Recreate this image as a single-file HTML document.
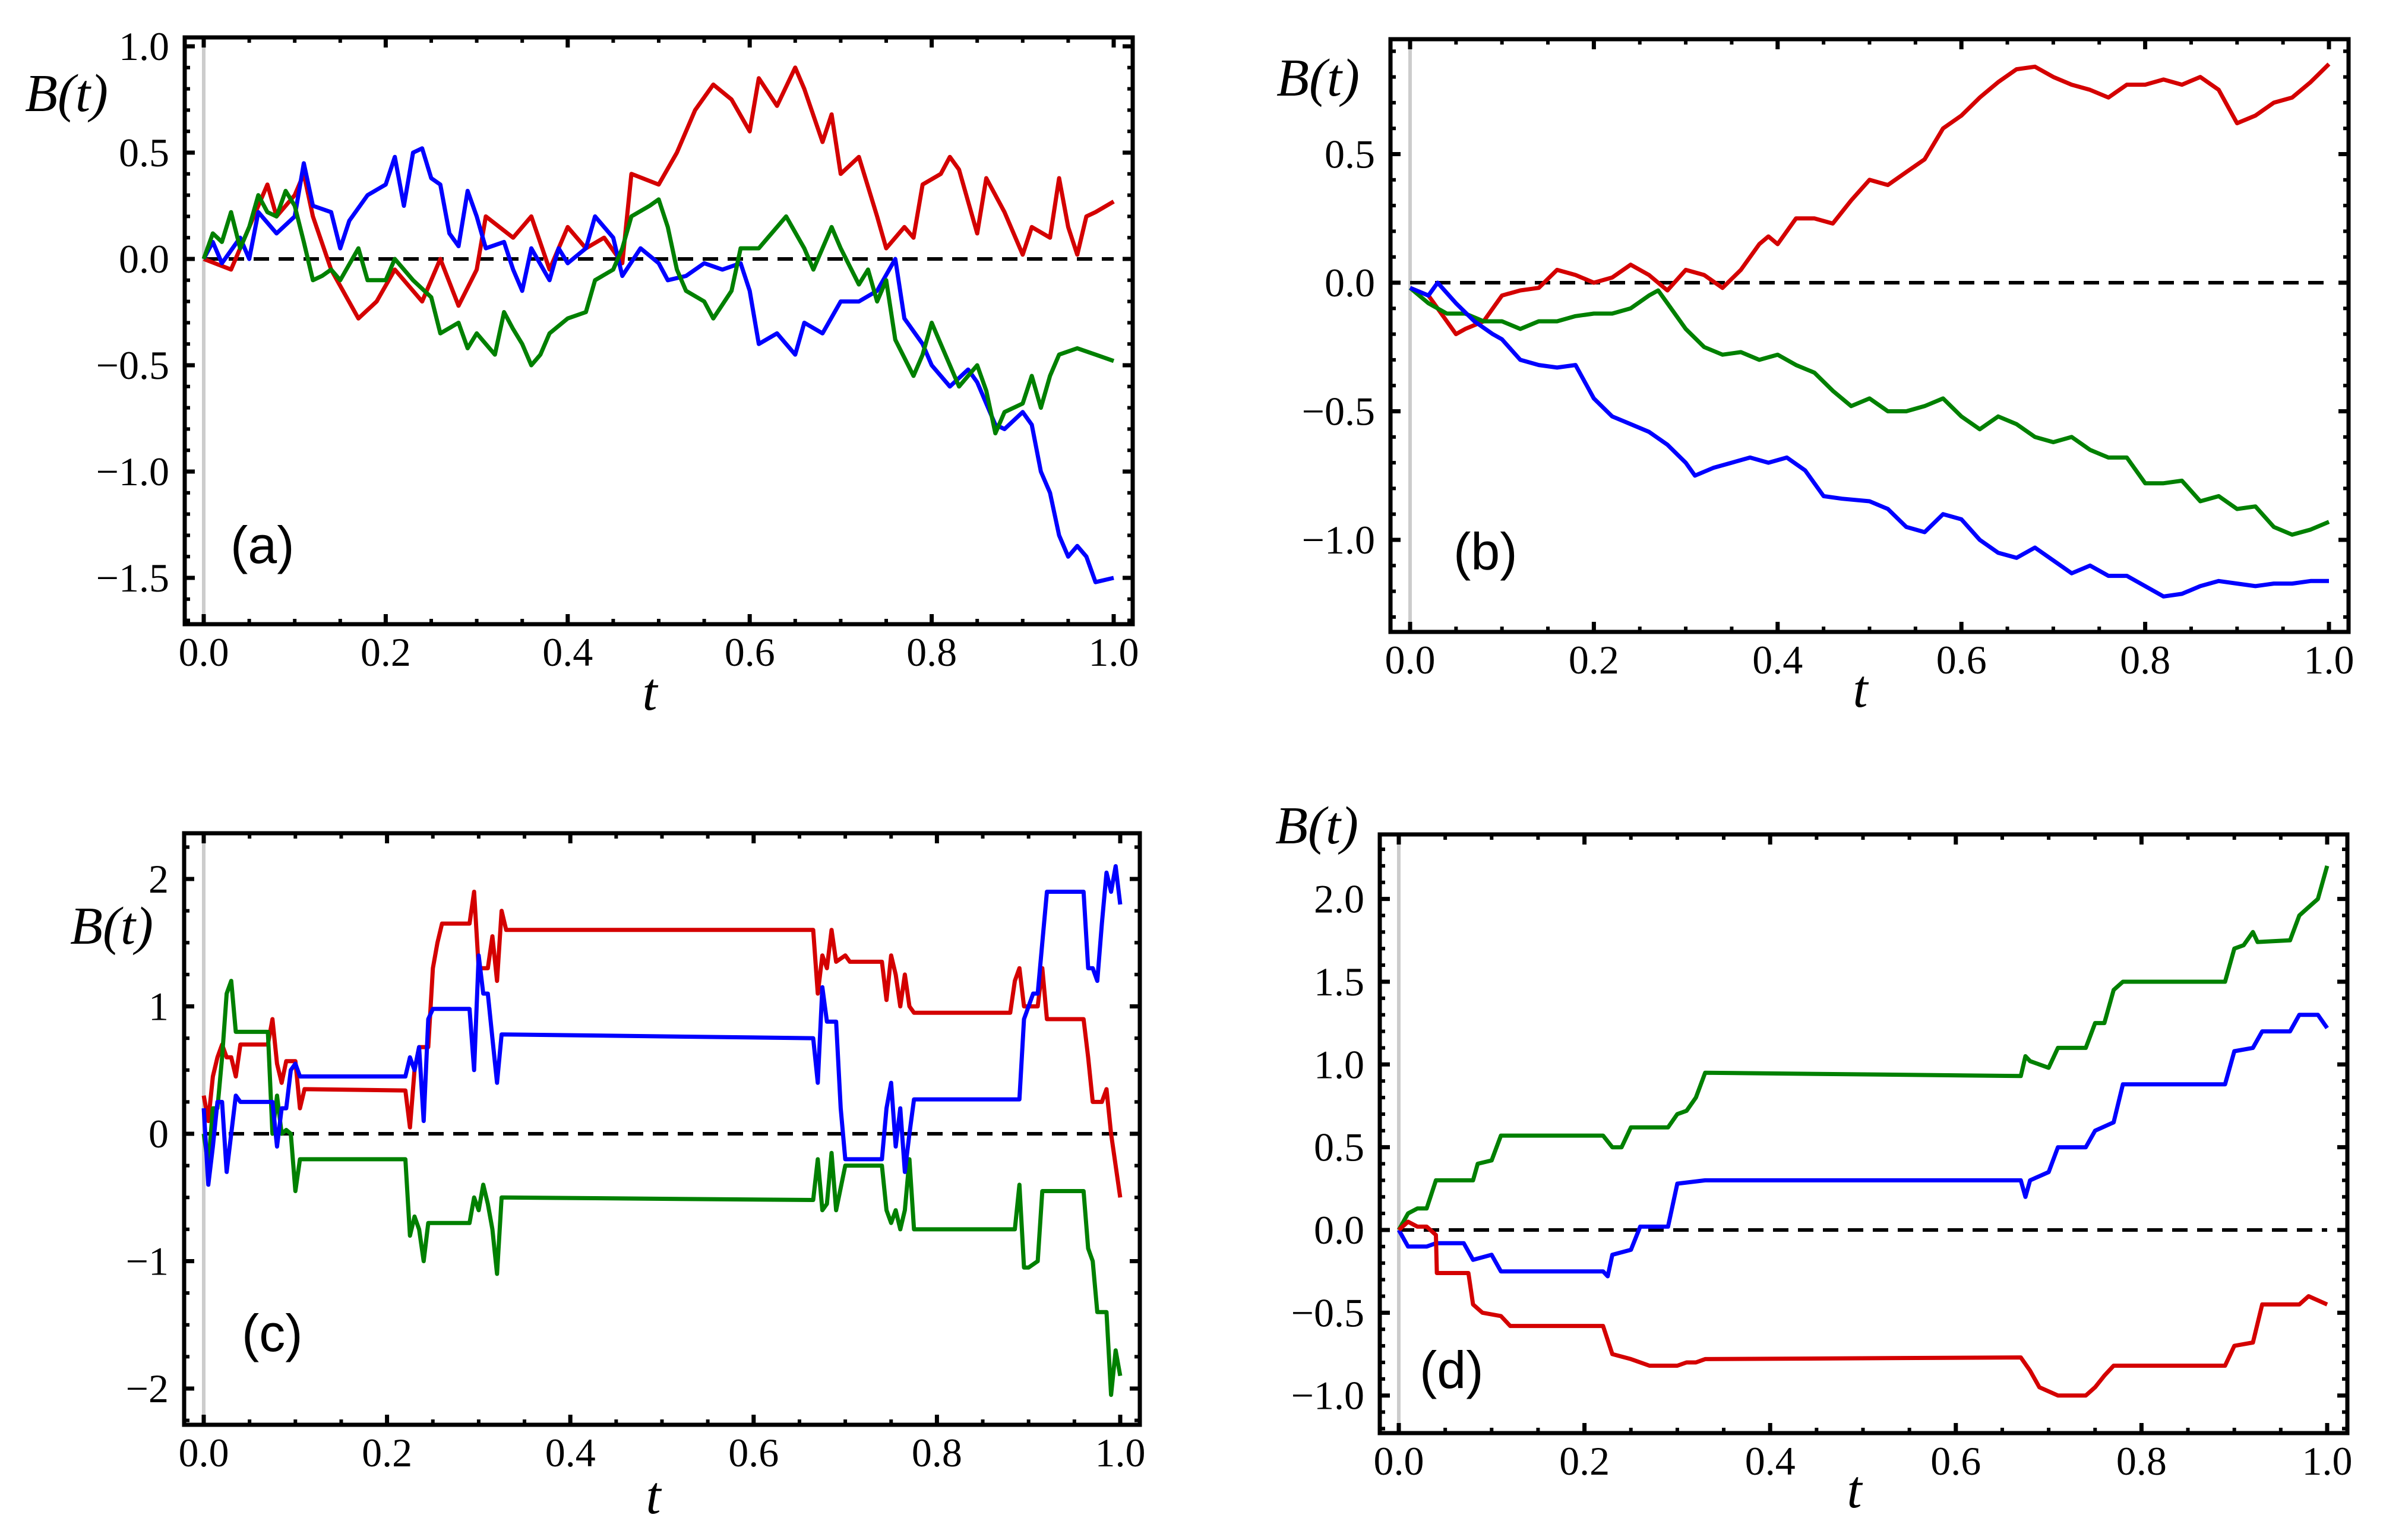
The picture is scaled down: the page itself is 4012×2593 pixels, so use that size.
<!DOCTYPE html>
<html><head><meta charset="utf-8"><style>
html,body{margin:0;padding:0;background:#fff;}
svg{display:block;}
.tk{font-family:"Liberation Serif",serif;font-size:68px;fill:#000;}
.lab{font-family:"Liberation Serif",serif;font-style:italic;font-size:90px;fill:#000;}
.pl{font-family:"Liberation Sans",sans-serif;font-size:88px;fill:#000;}
</style></head><body>
<svg id="fig" width="4012" height="2593" viewBox="0 0 4012 2593" xmlns="http://www.w3.org/2000/svg"></svg>
<script>
// ---- Panel (a) data ----
const aRedT=[0,.03,.06,.07,.08,.1,.11,.12,.14,.17,.19,.21,.24,.26,.28,.3,.31,.34,.36,.38,.40,.42,.44,.46,.47,.5,.52,.54,.56,.58,.6,.61,.63,.65,.66,.68,.69,.7,.72,.74,.75,.77,.78,.79,.81,.82,.83,.85,.86,.88,.9,.91,.93,.94,.95,.96,.97,.98,1.0];
const aRedB=[0,-0.05,0.25,0.35,0.2,0.3,0.4,0.2,-0.05,-0.28,-0.2,-0.05,-0.2,0.0,-0.22,-0.05,0.2,0.1,0.2,-0.05,0.15,0.05,0.1,-0.02,0.4,0.35,0.5,0.7,0.82,0.75,0.6,0.85,0.72,0.9,0.8,0.55,0.68,0.4,0.48,0.2,0.05,0.15,0.1,0.35,0.4,0.48,0.42,0.12,0.38,0.22,0.02,0.15,0.1,0.38,0.15,0.02,0.2,0.22,0.27];
const aBlueT=[0,.01,.02,.04,.05,.06,.08,.1,.11,.12,.14,.15,.16,.18,.2,.21,.22,.23,.24,.25,.26,.27,.28,.29,.3,.31,.33,.34,.35,.36,.38,.39,.4,.42,.43,.45,.46,.48,.5,.51,.53,.55,.57,.59,.6,.61,.63,.65,.66,.68,.7,.72,.74,.76,.77,.79,.8,.82,.84,.85,.87,.88,.9,.91,.92,.93,.94,.95,.96,.97,.98,1.0];
const aBlueB=[0,0.08,-0.02,0.1,0.0,0.22,0.12,0.2,0.45,0.25,0.22,0.05,0.18,0.3,0.35,0.48,0.25,0.5,0.52,0.38,0.35,0.12,0.06,0.32,0.2,0.05,0.08,-0.05,-0.15,0.05,-0.1,0.05,-0.02,0.05,0.2,0.1,-0.08,0.05,-0.02,-0.1,-0.08,-0.02,-0.05,-0.02,-0.15,-0.4,-0.35,-0.45,-0.3,-0.35,-0.2,-0.2,-0.15,0.0,-0.28,-0.4,-0.5,-0.6,-0.52,-0.58,-0.78,-0.8,-0.72,-0.78,-1.0,-1.1,-1.3,-1.4,-1.35,-1.4,-1.52,-1.5];
const aGreenT=[0,.01,.02,.03,.04,.05,.06,.07,.08,.09,.1,.11,.12,.13,.14,.15,.17,.18,.2,.21,.23,.25,.26,.28,.29,.3,.32,.33,.34,.35,.36,.37,.38,.4,.42,.43,.45,.46,.47,.49,.5,.51,.52,.53,.55,.56,.58,.59,.61,.62,.64,.66,.67,.69,.7,.72,.73,.74,.75,.76,.78,.79,.8,.81,.83,.84,.85,.86,.87,.88,.9,.91,.92,.93,.94,.96,.98,1.0];
const aGreenB=[0,0.12,0.08,0.22,0.05,0.15,0.3,0.22,0.2,0.32,0.25,0.08,-0.1,-0.08,-0.05,-0.1,0.05,-0.1,-0.1,0.0,-0.1,-0.18,-0.35,-0.3,-0.42,-0.35,-0.45,-0.25,-0.33,-0.4,-0.5,-0.45,-0.35,-0.28,-0.25,-0.1,-0.05,0.05,0.2,0.25,0.28,0.15,-0.05,-0.15,-0.2,-0.28,-0.15,0.05,0.05,0.1,0.2,0.05,-0.05,0.15,0.05,-0.12,-0.05,-0.2,-0.1,-0.38,-0.55,-0.45,-0.3,-0.4,-0.6,-0.55,-0.5,-0.62,-0.82,-0.72,-0.68,-0.55,-0.7,-0.55,-0.45,-0.42,-0.45,-0.48];
// ---- Panel (b) data ----
const bRedT=[0,.02,.04,.05,.06,.08,.1,.12,.14,.16,.18,.2,.22,.24,.26,.28,.3,.32,.34,.36,.38,.39,.4,.42,.44,.46,.48,.5,.52,.54,.56,.58,.6,.62,.64,.66,.68,.7,.72,.74,.76,.78,.8,.82,.84,.86,.88,.9,.92,.94,.96,.98,1.0];
const bRedB=[-0.02,-0.05,-0.15,-0.2,-0.18,-0.15,-0.05,-0.03,-0.02,0.05,0.03,0.0,0.02,0.07,0.03,-0.03,0.05,0.03,-0.02,0.05,0.15,0.18,0.15,0.25,0.25,0.23,0.32,0.4,0.38,0.43,0.48,0.6,0.65,0.72,0.78,0.83,0.84,0.8,0.77,0.75,0.72,0.77,0.77,0.79,0.77,0.8,0.75,0.62,0.65,0.7,0.72,0.78,0.85];
const bGreenT=[0,.02,.04,.06,.08,.1,.12,.14,.16,.18,.2,.22,.24,.26,.27,.28,.3,.32,.34,.36,.38,.4,.42,.44,.46,.48,.5,.52,.54,.56,.58,.6,.62,.64,.66,.68,.7,.72,.74,.76,.78,.8,.82,.84,.86,.88,.9,.92,.94,.96,.98,1.0];
const bGreenB=[-0.02,-0.08,-0.12,-0.12,-0.15,-0.15,-0.18,-0.15,-0.15,-0.13,-0.12,-0.12,-0.1,-0.05,-0.03,-0.08,-0.18,-0.25,-0.28,-0.27,-0.3,-0.28,-0.32,-0.35,-0.42,-0.48,-0.45,-0.5,-0.5,-0.48,-0.45,-0.52,-0.57,-0.52,-0.55,-0.6,-0.62,-0.6,-0.65,-0.68,-0.68,-0.78,-0.78,-0.77,-0.85,-0.83,-0.88,-0.87,-0.95,-0.98,-0.96,-0.93];
const bBlueT=[0,.02,.03,.05,.07,.09,.1,.12,.14,.16,.18,.2,.22,.24,.26,.28,.3,.31,.33,.35,.37,.39,.41,.43,.45,.47,.5,.52,.54,.56,.58,.6,.62,.64,.66,.68,.7,.72,.74,.76,.78,.8,.82,.84,.86,.88,.9,.92,.94,.96,.98,1.0];
const bBlueB=[-0.02,-0.05,0.0,-0.08,-0.15,-0.2,-0.22,-0.3,-0.32,-0.33,-0.32,-0.45,-0.52,-0.55,-0.58,-0.63,-0.7,-0.75,-0.72,-0.7,-0.68,-0.7,-0.68,-0.73,-0.83,-0.84,-0.85,-0.88,-0.95,-0.97,-0.9,-0.92,-1.0,-1.05,-1.07,-1.03,-1.08,-1.13,-1.1,-1.14,-1.14,-1.18,-1.22,-1.21,-1.18,-1.16,-1.17,-1.18,-1.17,-1.17,-1.16,-1.16];
// ---- Panel (c) data ----
const cRedT=[0,.005,.01,.015,.02,.025,.03,.035,.04,.07,.075,.08,.085,.09,.1,.105,.11,.22,.225,.23,.235,.245,.25,.255,.26,.29,.295,.3,.31,.315,.32,.325,.33,.665,.67,.675,.68,.685,.69,.7,.705,.74,.745,.75,.755,.76,.765,.77,.775,.88,.885,.89,.895,.91,.915,.92,.96,.965,.97,.98,.985,.99,1.0];
const cRedB=[0.3,0.1,0.45,0.6,0.7,0.6,0.6,0.45,0.7,0.7,0.9,0.55,0.4,0.57,0.57,0.2,0.35,0.34,0.05,0.5,0.68,0.68,1.3,1.5,1.65,1.65,1.9,1.3,1.3,1.55,1.2,1.75,1.6,1.6,1.1,1.4,1.3,1.6,1.35,1.4,1.35,1.35,1.05,1.4,1.25,1.0,1.25,1.0,0.95,0.95,1.2,1.3,1.0,1.0,1.3,0.9,0.9,0.6,0.25,0.25,0.35,0.0,-0.5];
const cBlueT=[0,.005,.01,.015,.02,.025,.03,.035,.04,.075,.08,.085,.09,.095,.1,.105,.22,.225,.23,.235,.24,.245,.25,.29,.295,.3,.305,.31,.315,.32,.325,.665,.67,.675,.68,.69,.695,.7,.74,.745,.75,.755,.76,.765,.77,.775,.89,.895,.9,.905,.91,.915,.92,.96,.965,.97,.975,.98,.985,.99,.995,1.0];
const cBlueB=[0.2,-0.4,-0.1,0.25,0.25,-0.3,0.0,0.3,0.25,0.25,-0.1,0.2,0.2,0.5,0.55,0.45,0.45,0.6,0.5,0.68,0.1,0.9,0.98,0.98,0.5,1.4,1.1,1.1,0.75,0.4,0.78,0.75,0.4,1.15,0.88,0.88,0.2,-0.2,-0.2,0.2,0.4,-0.1,0.2,-0.3,0.0,0.27,0.27,0.9,1.0,1.1,1.1,1.5,1.9,1.9,1.3,1.3,1.2,1.65,2.05,1.9,2.1,1.8];
const cGreenT=[0,.005,.01,.015,.02,.025,.03,.035,.07,.075,.08,.085,.09,.095,.1,.105,.22,.225,.23,.235,.24,.245,.25,.29,.295,.3,.305,.31,.315,.32,.325,.665,.67,.675,.68,.685,.69,.7,.74,.745,.75,.755,.76,.765,.77,.775,.885,.89,.895,.9,.91,.915,.92,.96,.965,.97,.975,.985,.99,.995,1.0];
const cGreenB=[0.0,-0.25,0.2,0.2,0.6,1.1,1.2,0.8,0.8,0.0,0.3,0.0,0.03,0.0,-0.45,-0.2,-0.2,-0.8,-0.65,-0.75,-1.0,-0.7,-0.7,-0.7,-0.5,-0.6,-0.4,-0.55,-0.75,-1.1,-0.5,-0.52,-0.2,-0.6,-0.55,-0.15,-0.6,-0.25,-0.25,-0.6,-0.7,-0.6,-0.75,-0.6,-0.2,-0.75,-0.75,-0.4,-1.05,-1.05,-1.0,-0.45,-0.45,-0.45,-0.9,-1.0,-1.4,-1.4,-2.05,-1.7,-1.9];
// ---- Panel (d) data ----
const dGreenT=[0,.01,.02,.03,.04,.08,.085,.1,.11,.22,.23,.24,.25,.29,.3,.31,.32,.33,.67,.675,.68,.69,.7,.71,.74,.75,.76,.77,.78,.89,.9,.91,.92,.925,.96,.97,.98,.99,1.0];
const dGreenB=[0,0.1,0.13,0.13,0.3,0.3,0.4,0.42,0.57,0.57,0.5,0.5,0.62,0.62,0.7,0.72,0.8,0.95,0.93,1.05,1.02,1.0,0.98,1.1,1.1,1.25,1.25,1.45,1.5,1.5,1.7,1.72,1.8,1.74,1.75,1.9,1.95,2.0,2.2];
const dBlueT=[0,.01,.03,.04,.07,.08,.1,.11,.22,.225,.23,.25,.26,.29,.3,.33,.67,.675,.68,.7,.71,.74,.75,.77,.78,.89,.9,.92,.93,.96,.97,.99,1.0];
const dBlueB=[0,-0.1,-0.1,-0.08,-0.08,-0.18,-0.15,-0.25,-0.25,-0.28,-0.15,-0.12,0.02,0.02,0.28,0.3,0.3,0.2,0.3,0.35,0.5,0.5,0.6,0.65,0.88,0.88,1.08,1.1,1.2,1.2,1.3,1.3,1.22];
const dRedT=[0,.01,.02,.03,.04,.041,.075,.08,.09,.11,.12,.22,.23,.25,.27,.3,.31,.32,.33,.67,.68,.69,.71,.74,.75,.76,.77,.89,.9,.92,.93,.97,.98,1.0];
const dRedB=[0,0.05,0.02,0.02,-0.03,-0.26,-0.26,-0.45,-0.5,-0.52,-0.58,-0.58,-0.75,-0.78,-0.82,-0.82,-0.8,-0.8,-0.78,-0.77,-0.85,-0.95,-1.0,-1.0,-0.95,-0.88,-0.82,-0.82,-0.7,-0.68,-0.45,-0.45,-0.4,-0.45];
// ---- tick label arrays ----
const aYTicks=[-1.5,-1.0,-0.5,0.0,0.5,1.0];
const bYTicks=[-1.0,-0.5,0.0,0.5];
const cYTicks=[-2,-1,0,1,2];
const dYTicks=[-1.0,-0.5,0.0,0.5,1.0,1.5,2.0];
const xTicks=[0,0.2,0.4,0.6,0.8,1.0];

const NS='http://www.w3.org/2000/svg';
const svg=document.getElementById('fig');
function mk(tag,attrs,parent){const e=document.createElementNS(NS,tag);for(const k in attrs)e.setAttribute(k,attrs[k]);(parent||svg).appendChild(e);return e;}
const RED='#d40000',GREEN='#008000',BLUE='#0000ff';

function panel(p){
  const g=mk('g',{});
  
  
  const xs=t=>p.x0+(p.x1-p.x0)*t;
  const ys=v=>p.y0-p.unit*v;
  const gl=mk('line',{x1:xs(0),x2:xs(0),y1:p.T,y2:p.B,stroke:'#cccccc','stroke-width':6},g);
  
  
  const dl=mk('line',{x1:xs(0),x2:xs(1),y1:ys(0),y2:ys(0),stroke:'#000','stroke-width':6,'stroke-dasharray':'26,16'},g);
  
  
  p.series.forEach(s=>{
    let d='';
    for(let i=0;i<s.t.length;i++){d+=(i?'L':'M')+xs(s.t[i]).toFixed(1)+','+ys(s.b[i]).toFixed(1);}
    const pa=mk('path',{d:d,fill:'none',stroke:s.c,'stroke-width':7,'stroke-linejoin':'round'},g);
    
    
  });
  const tg=mk('g',{stroke:'#000'},g);
  
  
  for(let k=-2;k<=102;k++){
    const t=k/100; if(k%5!==0)continue;
    const X=xs(t); if(X<p.L+4||X>p.R-4)continue;
    const len=(k%20===0)?17:9, w=(k%20===0)?7:6;
    mk('line',{x1:X,x2:X,y1:p.B,y2:p.B-len,'stroke-width':w},tg);
    mk('line',{x1:X,x2:X,y1:p.T,y2:p.T+len,'stroke-width':w},tg);
  }
  const vmin=(p.y0-p.B)/p.unit, vmax=(p.y0-p.T)/p.unit;
  for(let k=Math.ceil(vmin/p.minor);k<=Math.floor(vmax/p.minor);k++){
    const v=k*p.minor; const Y=ys(v); if(Y<p.T+4||Y>p.B-4)continue;
    const maj=Math.abs(v/p.major-Math.round(v/p.major))<1e-6;
    const len=maj?17:9,w=maj?7:6;
    mk('line',{x1:p.L,x2:p.L+len,y1:Y,y2:Y,'stroke-width':w},tg);
    mk('line',{x1:p.R,x2:p.R-len,y1:Y,y2:Y,'stroke-width':w},tg);
  }
  const fr=mk('rect',{x:p.L,y:p.T,width:p.R-p.L,height:p.B-p.T,fill:'none',stroke:'#000','stroke-width':7},g);
  
  
  xTicks.forEach(t=>{
    const tx=mk('text',{x:xs(t),y:p.B+70,'text-anchor':'middle',class:'tk'},g);
    tx.textContent=t.toFixed(1);
    
    
  });
  p.yticks.forEach(v=>{
    const tx=mk('text',{x:p.L-26,y:ys(v)+23,'text-anchor':'end',class:'tk'},g);
    tx.textContent=(v<0?'\u2212':'')+Math.abs(v).toFixed(p.dec);
    
    
  });
  const yl=mk('text',{x:p.byx,y:p.byy,class:'lab'},g);
  yl.textContent='B(t)';
  
  
  const xl=mk('text',{x:p.tx,y:p.ty,class:'lab','text-anchor':'middle'},g);
  xl.textContent='t';
  
  
  const pl=mk('text',{x:p.px,y:p.py,class:'pl'},g);
  pl.textContent='('+p.id+')';
  
  
}

panel({id:'a',L:311,R:1907,T:63,B:1051,x0:343,x1:1875,y0:436,unit:358,major:0.5,minor:0.1,dec:1,yticks:aYTicks,
  byx:42,byy:187,tx:1094,ty:1195,px:388,py:948,
  series:[{t:aRedT,b:aRedB,c:RED,name:'series-red'},{t:aBlueT,b:aBlueB,c:BLUE,name:'series-blue'},{t:aGreenT,b:aGreenB,c:GREEN,name:'series-green'}]});
panel({id:'b',L:2341,R:3954,T:66,B:1064,x0:2374,x1:3921,y0:476,unit:433,major:0.5,minor:0.1,dec:1,yticks:bYTicks,
  byx:2149,byy:161,tx:3132,ty:1190,px:2447,py:959,
  series:[{t:bRedT,b:bRedB,c:RED,name:'series-red'},{t:bGreenT,b:bGreenB,c:GREEN,name:'series-green'},{t:bBlueT,b:bBlueB,c:BLUE,name:'series-blue'}]});
panel({id:'c',L:310,R:1919,T:1403,B:2399,x0:343,x1:1886,y0:1909,unit:214.5,major:1,minor:0.25,dec:0,yticks:cYTicks,
  byx:118,byy:1589,tx:1100,ty:2548,px:407,py:2275,
  series:[{t:cRedT,b:cRedB,c:RED,name:'series-red'},{t:cGreenT,b:cGreenB,c:GREEN,name:'series-green'},{t:cBlueT,b:cBlueB,c:BLUE,name:'series-blue'}]});
panel({id:'d',L:2323,R:3952,T:1405,B:2413,x0:2355,x1:3918,y0:2071,unit:278.7,major:0.5,minor:0.1,dec:1,yticks:dYTicks,
  byx:2147,byy:1420,tx:3122,ty:2538,px:2390,py:2337,
  series:[{t:dGreenT,b:dGreenB,c:GREEN,name:'series-green'},{t:dBlueT,b:dBlueB,c:BLUE,name:'series-blue'},{t:dRedT,b:dRedB,c:RED,name:'series-red'}]});
</script>
</body></html>
